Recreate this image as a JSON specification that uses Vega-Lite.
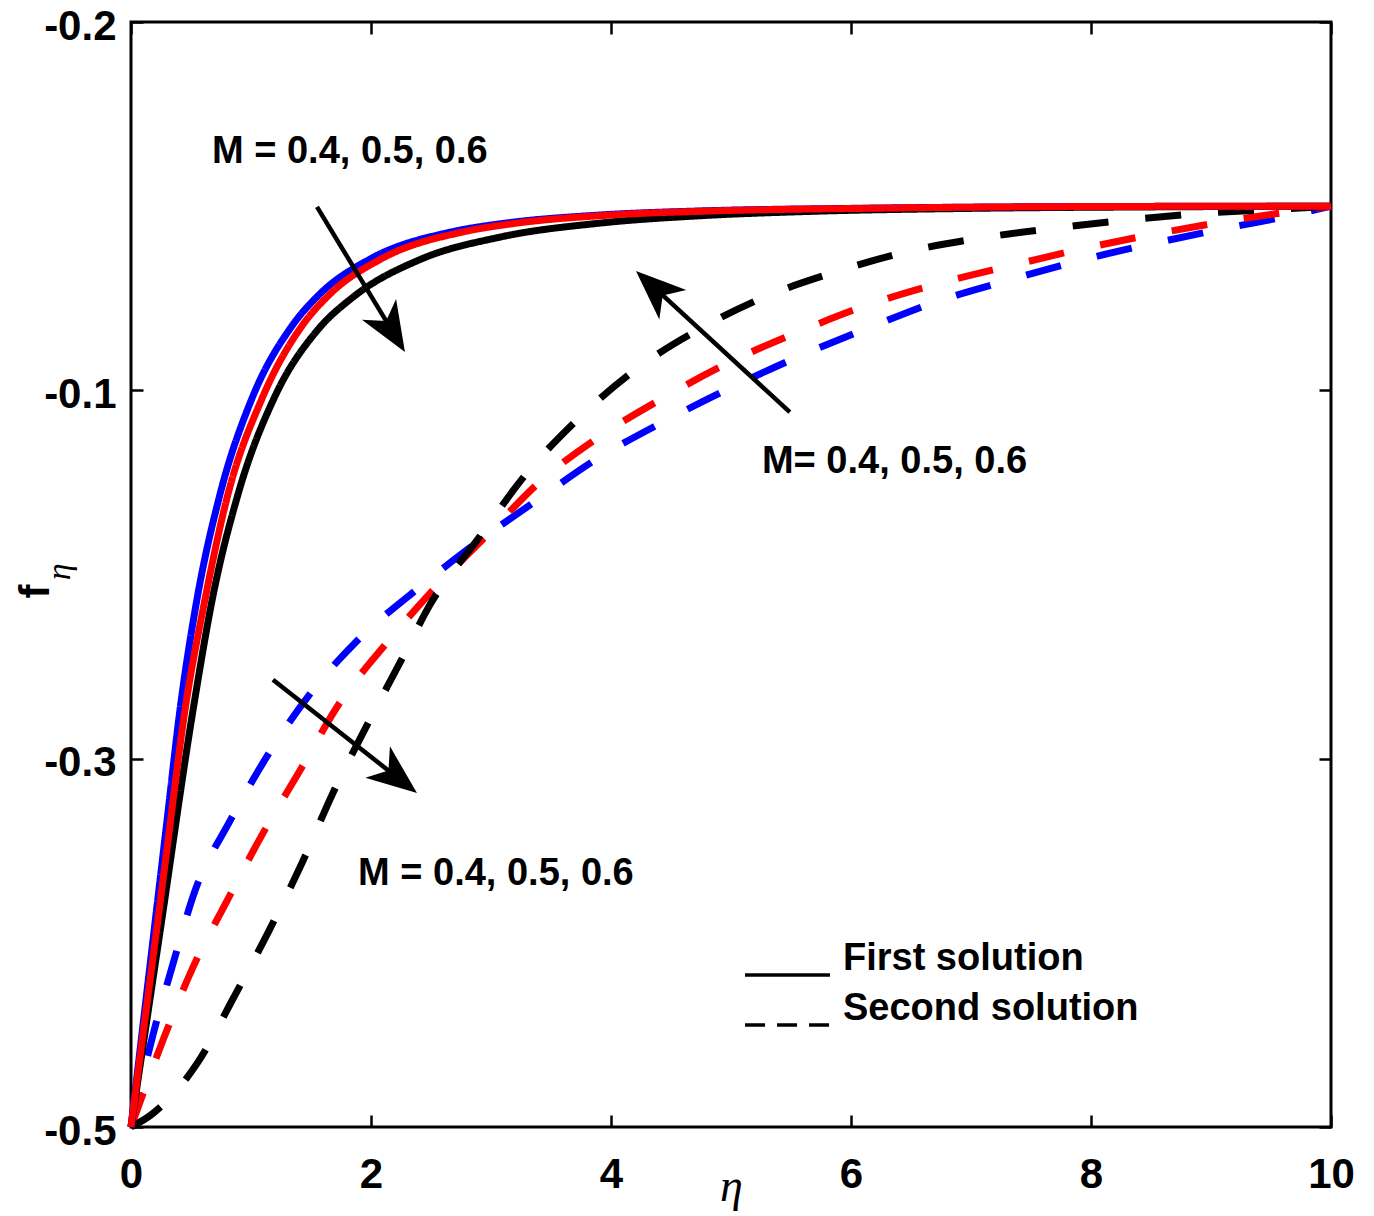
{
  "$schema": "https://vega.github.io/schema/vega-lite/v6.json",
  "width": 1200,
  "height": 1105,
  "autosize": {"type": "none"},
  "padding": {"left": 131, "top": 22, "right": 43, "bottom": 89},
  "background": "white",
  "config": {"view": {"stroke": "black", "strokeWidth": 3}, "font": "Liberation Sans"},
  "datasets": {
    "curves": [
      {"eta": 0, "f": -0.5, "M": "0.4", "sol": "Second solution"},
      {"eta": 0.183, "f": -0.475, "M": "0.4", "sol": "Second solution"},
      {"eta": 0.35, "f": -0.4557, "M": "0.4", "sol": "Second solution"},
      {"eta": 0.533, "f": -0.4359, "M": "0.4", "sol": "Second solution"},
      {"eta": 0.825, "f": -0.4169, "M": "0.4", "sol": "Second solution"},
      {"eta": 1.133, "f": -0.3994, "M": "0.4", "sol": "Second solution"},
      {"eta": 1.492, "f": -0.3824, "M": "0.4", "sol": "Second solution"},
      {"eta": 1.908, "f": -0.3672, "M": "0.4", "sol": "Second solution"},
      {"eta": 2.383, "f": -0.354, "M": "0.4", "sol": "Second solution"},
      {"eta": 2.8, "f": -0.3433, "M": "0.4", "sol": "Second solution"},
      {"eta": 3.383, "f": -0.3298, "M": "0.4", "sol": "Second solution"},
      {"eta": 3.892, "f": -0.3184, "M": "0.4", "sol": "Second solution"},
      {"eta": 4.433, "f": -0.3086, "M": "0.4", "sol": "Second solution"},
      {"eta": 4.992, "f": -0.2994, "M": "0.4", "sol": "Second solution"},
      {"eta": 5.558, "f": -0.2909, "M": "0.4", "sol": "Second solution"},
      {"eta": 6.142, "f": -0.2831, "M": "0.4", "sol": "Second solution"},
      {"eta": 6.742, "f": -0.2756, "M": "0.4", "sol": "Second solution"},
      {"eta": 7.325, "f": -0.27, "M": "0.4", "sol": "Second solution"},
      {"eta": 7.925, "f": -0.2646, "M": "0.4", "sol": "Second solution"},
      {"eta": 8.533, "f": -0.26, "M": "0.4", "sol": "Second solution"},
      {"eta": 9.142, "f": -0.2559, "M": "0.4", "sol": "Second solution"},
      {"eta": 9.683, "f": -0.2524, "M": "0.4", "sol": "Second solution"},
      {"eta": 10, "f": -0.25, "M": "0.4", "sol": "Second solution"},

      {"eta": 0, "f": -0.5, "M": "0.5", "sol": "Second solution"},
      {"eta": 0.275, "f": -0.4757, "M": "0.5", "sol": "Second solution"},
      {"eta": 0.517, "f": -0.4566, "M": "0.5", "sol": "Second solution"},
      {"eta": 0.8, "f": -0.4386, "M": "0.5", "sol": "Second solution"},
      {"eta": 1.092, "f": -0.4207, "M": "0.5", "sol": "Second solution"},
      {"eta": 1.408, "f": -0.4032, "M": "0.5", "sol": "Second solution"},
      {"eta": 1.742, "f": -0.3847, "M": "0.5", "sol": "Second solution"},
      {"eta": 2.117, "f": -0.3691, "M": "0.5", "sol": "Second solution"},
      {"eta": 2.517, "f": -0.3542, "M": "0.5", "sol": "Second solution"},
      {"eta": 2.967, "f": -0.3393, "M": "0.5", "sol": "Second solution"},
      {"eta": 3.425, "f": -0.3243, "M": "0.5", "sol": "Second solution"},
      {"eta": 3.925, "f": -0.3121, "M": "0.5", "sol": "Second solution"},
      {"eta": 4.433, "f": -0.3021, "M": "0.5", "sol": "Second solution"},
      {"eta": 4.992, "f": -0.2923, "M": "0.5", "sol": "Second solution"},
      {"eta": 5.558, "f": -0.2842, "M": "0.5", "sol": "Second solution"},
      {"eta": 6.142, "f": -0.2768, "M": "0.5", "sol": "Second solution"},
      {"eta": 6.742, "f": -0.2709, "M": "0.5", "sol": "Second solution"},
      {"eta": 7.35, "f": -0.266, "M": "0.5", "sol": "Second solution"},
      {"eta": 7.967, "f": -0.2613, "M": "0.5", "sol": "Second solution"},
      {"eta": 8.575, "f": -0.2573, "M": "0.5", "sol": "Second solution"},
      {"eta": 9.183, "f": -0.2538, "M": "0.5", "sol": "Second solution"},
      {"eta": 10, "f": -0.25, "M": "0.5", "sol": "Second solution"},

      {"eta": 0, "f": -0.5, "M": "0.6", "sol": "Second solution"},
      {"eta": 0.167, "f": -0.4967, "M": "0.6", "sol": "Second solution"},
      {"eta": 0.558, "f": -0.4824, "M": "0.6", "sol": "Second solution"},
      {"eta": 0.858, "f": -0.4647, "M": "0.6", "sol": "Second solution"},
      {"eta": 1.142, "f": -0.4472, "M": "0.6", "sol": "Second solution"},
      {"eta": 1.425, "f": -0.4283, "M": "0.6", "sol": "Second solution"},
      {"eta": 1.683, "f": -0.4093, "M": "0.6", "sol": "Second solution"},
      {"eta": 1.967, "f": -0.3909, "M": "0.6", "sol": "Second solution"},
      {"eta": 2.258, "f": -0.3729, "M": "0.6", "sol": "Second solution"},
      {"eta": 2.49, "f": -0.3583, "M": "0.6", "sol": "Second solution"},
      {"eta": 2.9, "f": -0.34, "M": "0.6", "sol": "Second solution"},
      {"eta": 3.3, "f": -0.3224, "M": "0.6", "sol": "Second solution"},
      {"eta": 3.717, "f": -0.308, "M": "0.6", "sol": "Second solution"},
      {"eta": 4.19, "f": -0.2947, "M": "0.6", "sol": "Second solution"},
      {"eta": 4.725, "f": -0.2836, "M": "0.6", "sol": "Second solution"},
      {"eta": 5.283, "f": -0.2746, "M": "0.6", "sol": "Second solution"},
      {"eta": 5.867, "f": -0.2679, "M": "0.6", "sol": "Second solution"},
      {"eta": 6.475, "f": -0.2623, "M": "0.6", "sol": "Second solution"},
      {"eta": 7.09, "f": -0.2586, "M": "0.6", "sol": "Second solution"},
      {"eta": 7.72, "f": -0.2559, "M": "0.6", "sol": "Second solution"},
      {"eta": 8.325, "f": -0.2537, "M": "0.6", "sol": "Second solution"},
      {"eta": 8.95, "f": -0.2519, "M": "0.6", "sol": "Second solution"},
      {"eta": 9.52, "f": -0.2509, "M": "0.6", "sol": "Second solution"},
      {"eta": 10, "f": -0.25, "M": "0.6", "sol": "Second solution"},

      {"eta": 0, "f": -0.5, "M": "0.6", "sol": "First solution"},
      {"eta": 0.1, "f": -0.478, "M": "0.6", "sol": "First solution"},
      {"eta": 0.25, "f": -0.4452, "M": "0.6", "sol": "First solution"},
      {"eta": 0.517, "f": -0.3868, "M": "0.6", "sol": "First solution"},
      {"eta": 0.683, "f": -0.3558, "M": "0.6", "sol": "First solution"},
      {"eta": 0.892, "f": -0.3282, "M": "0.6", "sol": "First solution"},
      {"eta": 1.2, "f": -0.3016, "M": "0.6", "sol": "First solution"},
      {"eta": 1.558, "f": -0.2835, "M": "0.6", "sol": "First solution"},
      {"eta": 1.85, "f": -0.2747, "M": "0.6", "sol": "First solution"},
      {"eta": 2.408, "f": -0.2645, "M": "0.6", "sol": "First solution"},
      {"eta": 3.075, "f": -0.2584, "M": "0.6", "sol": "First solution"},
      {"eta": 3.908, "f": -0.2546, "M": "0.6", "sol": "First solution"},
      {"eta": 4.742, "f": -0.2526, "M": "0.6", "sol": "First solution"},
      {"eta": 5.575, "f": -0.2515, "M": "0.6", "sol": "First solution"},
      {"eta": 7, "f": -0.2506, "M": "0.6", "sol": "First solution"},
      {"eta": 8.5, "f": -0.2502, "M": "0.6", "sol": "First solution"},
      {"eta": 10, "f": -0.25, "M": "0.6", "sol": "First solution"},

      {"eta": 0, "f": -0.5, "M": "0.4", "sol": "First solution"},
      {"eta": 0.1, "f": -0.4723, "M": "0.4", "sol": "First solution"},
      {"eta": 0.2, "f": -0.4446, "M": "0.4", "sol": "First solution"},
      {"eta": 0.3, "f": -0.4169, "M": "0.4", "sol": "First solution"},
      {"eta": 0.408, "f": -0.3868, "M": "0.4", "sol": "First solution"},
      {"eta": 0.55, "f": -0.3567, "M": "0.4", "sol": "First solution"},
      {"eta": 0.742, "f": -0.3282, "M": "0.4", "sol": "First solution"},
      {"eta": 1.008, "f": -0.3022, "M": "0.4", "sol": "First solution"},
      {"eta": 1.342, "f": -0.2825, "M": "0.4", "sol": "First solution"},
      {"eta": 1.575, "f": -0.2738, "M": "0.4", "sol": "First solution"},
      {"eta": 1.99, "f": -0.2644, "M": "0.4", "sol": "First solution"},
      {"eta": 2.683, "f": -0.2569, "M": "0.4", "sol": "First solution"},
      {"eta": 3.075, "f": -0.2548, "M": "0.4", "sol": "First solution"},
      {"eta": 3.908, "f": -0.2524, "M": "0.4", "sol": "First solution"},
      {"eta": 4.742, "f": -0.2513, "M": "0.4", "sol": "First solution"},
      {"eta": 6, "f": -0.2506, "M": "0.4", "sol": "First solution"},
      {"eta": 8, "f": -0.2501, "M": "0.4", "sol": "First solution"},
      {"eta": 10, "f": -0.25, "M": "0.4", "sol": "First solution"},

      {"eta": 0, "f": -0.5, "M": "0.5", "sol": "First solution"},
      {"eta": 0.1, "f": -0.4748, "M": "0.5", "sol": "First solution"},
      {"eta": 0.2, "f": -0.4498, "M": "0.5", "sol": "First solution"},
      {"eta": 0.3, "f": -0.4245, "M": "0.5", "sol": "First solution"},
      {"eta": 0.45, "f": -0.3868, "M": "0.5", "sol": "First solution"},
      {"eta": 0.617, "f": -0.3567, "M": "0.5", "sol": "First solution"},
      {"eta": 0.808, "f": -0.3282, "M": "0.5", "sol": "First solution"},
      {"eta": 1.092, "f": -0.3022, "M": "0.5", "sol": "First solution"},
      {"eta": 1.425, "f": -0.2825, "M": "0.5", "sol": "First solution"},
      {"eta": 1.66, "f": -0.2738, "M": "0.5", "sol": "First solution"},
      {"eta": 2.08, "f": -0.2644, "M": "0.5", "sol": "First solution"},
      {"eta": 2.78, "f": -0.2569, "M": "0.5", "sol": "First solution"},
      {"eta": 3.17, "f": -0.2548, "M": "0.5", "sol": "First solution"},
      {"eta": 4.0, "f": -0.2524, "M": "0.5", "sol": "First solution"},
      {"eta": 4.84, "f": -0.2513, "M": "0.5", "sol": "First solution"},
      {"eta": 6.1, "f": -0.2506, "M": "0.5", "sol": "First solution"},
      {"eta": 8, "f": -0.2501, "M": "0.5", "sol": "First solution"},
      {"eta": 10, "f": -0.25, "M": "0.5", "sol": "First solution"}
    ],
    "arrows": [
      {"id": "a1", "x": 1.55, "y": -0.2502, "x2": 2.218, "y2": -0.2861, "hx": 2.283, "hy": -0.2896},
      {"id": "a2", "x": 5.49, "y": -0.3059, "x2": 4.301, "y2": -0.2703, "hx": 4.208, "hy": -0.2676},
      {"id": "a3", "x": 1.183, "y": -0.3786, "x2": 2.285, "y2": -0.4068, "hx": 2.383, "hy": -0.4093}
    ],
    "mlabels": [
      {"x": 0.675, "y": -0.2383, "text": "M = 0.4, 0.5, 0.6"},
      {"x": 5.258, "y": -0.3224, "text": "M= 0.4, 0.5, 0.6"},
      {"x": 1.892, "y": -0.4343, "text": "M = 0.4, 0.5, 0.6"}
    ],
    "legendText": [
      {"x": 5.933, "y": -0.4574, "text": "First solution"},
      {"x": 5.933, "y": -0.4709, "text": "Second solution"}
    ],
    "legendLines": [
      {"x": 5.117, "x2": 5.825, "y": -0.4587, "sol": "First solution"},
      {"x": 5.117, "x2": 5.825, "y": -0.4723, "sol": "Second solution"}
    ],
    "subscript": [
      {"x": -0.508, "y": -0.3493, "text": "η"}
    ]
  },
  "resolve": {"axis": {"x": "independent", "y": "independent"}},
  "layer": [
    {
      "data": {"name": "curves"},
      "transform": [{"filter": "datum.sol === 'Second solution'"}],
      "mark": {"type": "line", "strokeWidth": 7, "strokeCap": "butt", "interpolate": "monotone"},
      "encoding": {
        "x": {
          "field": "eta", "type": "quantitative",
          "scale": {"domain": [0, 10], "nice": false, "zero": false},
          "axis": {
            "orient": "bottom", "values": [0, 2, 4, 6, 8, 10], "format": "d",
            "domain": false, "grid": false,
            "tickSize": -12, "tickWidth": 2.5, "tickColor": "black",
            "labelFont": "Liberation Sans", "labelFontWeight": "bold", "labelFontSize": 42, "labelColor": "black",
            "labelPadding": 39, "labelFlush": false, "labelOverlap": false, "labelBound": false,
            "title": "η", "titleFont": "Liberation Serif", "titleFontStyle": "italic", "titleFontWeight": "normal",
            "titleFontSize": 46, "titleColor": "black", "titleX": 600, "titleY": 73,
            "titleAlign": "center", "titleBaseline": "alphabetic"
          }
        },
        "y": {
          "field": "f", "type": "quantitative",
          "scale": {"domain": [-0.5, -0.2], "nice": false, "zero": false},
          "axis": {
            "orient": "left", "values": [-0.5, -0.4, -0.3, -0.2],
            "labelExpr": "datum.value < -0.45 ? '-0.5' : datum.value < -0.35 ? '-0.3' : datum.value < -0.25 ? '-0.1' : '-0.2'",
            "domain": false, "grid": false,
            "tickSize": -12, "tickWidth": 2.5, "tickColor": "black",
            "labelFont": "Liberation Sans", "labelFontWeight": "bold", "labelFontSize": 42, "labelColor": "black",
            "labelPadding": 27, "labelOffset": 4, "labelFlush": false, "labelOverlap": false, "labelBound": false,
            "title": "f", "titleFont": "Liberation Sans", "titleFontWeight": "bold", "titleFontSize": 42,
            "titleColor": "black", "titleAngle": 270, "titleX": -83, "titleY": 569,
            "titleAlign": "center", "titleBaseline": "alphabetic"
          }
        },
        "color": {
          "field": "M", "type": "nominal",
          "scale": {"domain": ["0.4", "0.5", "0.6"], "range": ["#0000ff", "#ff0000", "#000000"]},
          "legend": null
        },
        "strokeDash": {
          "field": "sol", "type": "nominal",
          "scale": {"domain": ["First solution", "Second solution"], "range": [[1, 0], [36, 37]]},
          "legend": null
        }
      }
    },
    {
      "data": {"name": "curves"},
      "transform": [{"filter": "datum.sol === 'First solution'"}],
      "mark": {"type": "line", "strokeWidth": 7, "strokeCap": "butt", "interpolate": "monotone"},
      "encoding": {
        "x": {
          "field": "eta", "type": "quantitative",
          "axis": {
            "orient": "top", "values": [0, 2, 4, 6, 8, 10], "labels": false, "domain": false, "grid": false,
            "tickSize": -12, "tickWidth": 2.5, "tickColor": "black", "title": null
          }
        },
        "y": {
          "field": "f", "type": "quantitative",
          "axis": {
            "orient": "right", "values": [-0.5, -0.4, -0.3, -0.2], "labels": false, "domain": false, "grid": false,
            "tickSize": -12, "tickWidth": 2.5, "tickColor": "black", "title": null
          }
        },
        "color": {"field": "M", "type": "nominal", "legend": null},
        "strokeDash": {"field": "sol", "type": "nominal", "legend": null}
      }
    },
    {
      "data": {"name": "arrows"},
      "mark": {"type": "rule", "color": "black", "strokeWidth": 4.5},
      "encoding": {
        "x": {"field": "x", "type": "quantitative", "axis": null},
        "y": {"field": "y", "type": "quantitative", "axis": null},
        "x2": {"field": "x2"},
        "y2": {"field": "y2"}
      }
    },
    {
      "data": {"name": "arrows"},
      "transform": [{"filter": "datum.id === 'a1'"}],
      "mark": {"type": "point", "shape": "M0,0L0.8,2L0,1.45L-0.8,2Z", "filled": true, "color": "black", "opacity": 1, "size": 2500, "angle": 148.7, "strokeWidth": 0},
      "encoding": {
        "x": {"field": "hx", "type": "quantitative", "axis": null},
        "y": {"field": "hy", "type": "quantitative", "axis": null}
      }
    },
    {
      "data": {"name": "arrows"},
      "transform": [{"filter": "datum.id === 'a2'"}],
      "mark": {"type": "point", "shape": "M0,0L0.8,2L0,1.45L-0.8,2Z", "filled": true, "color": "black", "opacity": 1, "size": 2500, "angle": 312.5, "strokeWidth": 0},
      "encoding": {
        "x": {"field": "hx", "type": "quantitative", "axis": null},
        "y": {"field": "hy", "type": "quantitative", "axis": null}
      }
    },
    {
      "data": {"name": "arrows"},
      "transform": [{"filter": "datum.id === 'a3'"}],
      "mark": {"type": "point", "shape": "M0,0L0.8,2L0,1.45L-0.8,2Z", "filled": true, "color": "black", "opacity": 1, "size": 2500, "angle": 128.1, "strokeWidth": 0},
      "encoding": {
        "x": {"field": "hx", "type": "quantitative", "axis": null},
        "y": {"field": "hy", "type": "quantitative", "axis": null}
      }
    },
    {
      "data": {"name": "mlabels"},
      "mark": {"type": "text", "align": "left", "baseline": "alphabetic", "font": "Liberation Sans", "fontWeight": "bold", "fontSize": 38, "color": "black"},
      "encoding": {
        "x": {"field": "x", "type": "quantitative", "axis": null},
        "y": {"field": "y", "type": "quantitative", "axis": null},
        "text": {"field": "text"}
      }
    },
    {
      "data": {"name": "legendText"},
      "mark": {"type": "text", "align": "left", "baseline": "alphabetic", "font": "Liberation Sans", "fontWeight": "bold", "fontSize": 38, "color": "black"},
      "encoding": {
        "x": {"field": "x", "type": "quantitative", "axis": null},
        "y": {"field": "y", "type": "quantitative", "axis": null},
        "text": {"field": "text"}
      }
    },
    {
      "data": {"name": "legendLines"},
      "transform": [{"filter": "datum.sol === 'First solution'"}],
      "mark": {"type": "rule", "color": "black", "strokeWidth": 3.5},
      "encoding": {
        "x": {"field": "x", "type": "quantitative", "axis": null},
        "x2": {"field": "x2"},
        "y": {"field": "y", "type": "quantitative", "axis": null}
      }
    },
    {
      "data": {"name": "legendLines"},
      "transform": [{"filter": "datum.sol === 'Second solution'"}],
      "mark": {"type": "rule", "color": "black", "strokeWidth": 3.5, "strokeDash": [20, 12]},
      "encoding": {
        "x": {"field": "x", "type": "quantitative", "axis": null},
        "x2": {"field": "x2"},
        "y": {"field": "y", "type": "quantitative", "axis": null}
      }
    },
    {
      "data": {"name": "subscript"},
      "mark": {"type": "text", "align": "center", "baseline": "alphabetic", "angle": 270, "font": "Liberation Serif", "fontStyle": "italic", "fontSize": 34, "color": "black"},
      "encoding": {
        "x": {"field": "x", "type": "quantitative", "axis": null},
        "y": {"field": "y", "type": "quantitative", "axis": null},
        "text": {"field": "text"}
      }
    }
  ]
}
